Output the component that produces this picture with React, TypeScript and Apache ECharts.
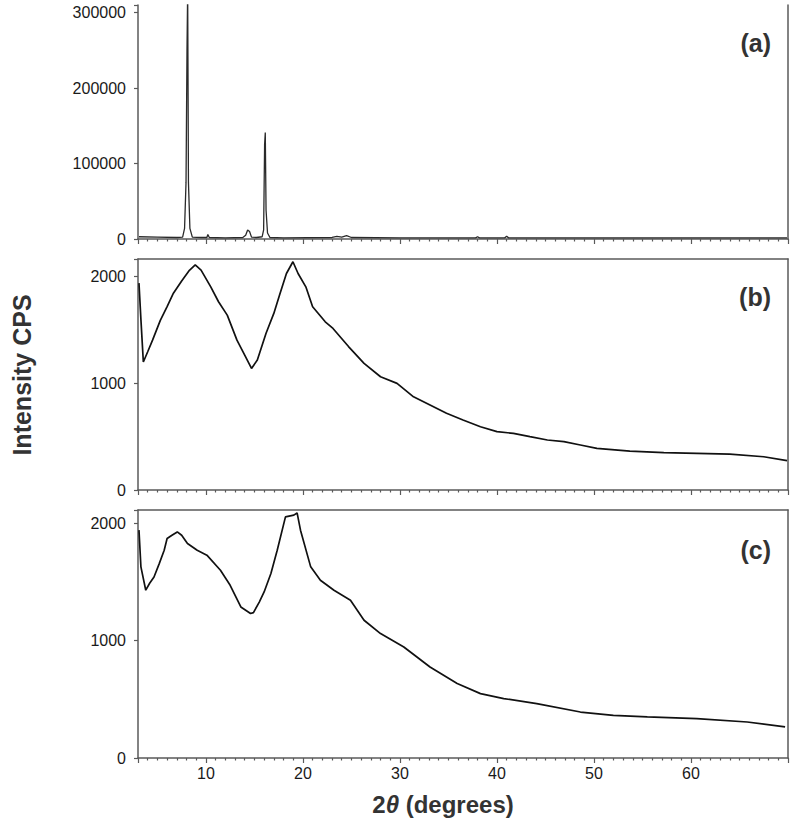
import React, { useEffect, useRef } from "react";
import * as echarts from "echarts";

// Panel (a): sharp crystalline peaks
const A_X = [3.1, 5, 7, 7.6, 7.8, 7.95, 8.05, 8.12, 8.2, 8.35, 8.6, 9.5, 10.1, 10.2, 10.35, 12, 13.8, 14.1, 14.3, 14.5, 14.7, 15.2, 15.8, 15.95, 16.05, 16.12, 16.2, 16.35, 16.6, 18, 23, 23.5, 24, 24.5, 25, 30, 37.8, 38, 38.2, 40.8, 41, 41.2, 50, 60, 69.9];
const A_Y = [3000, 2500, 2000, 2500, 14000, 75000, 250000, 330000, 75000, 14000, 2500, 2000, 2000, 6000, 2000, 1500, 2000, 5000, 12000, 10000, 2500, 2000, 3000, 12000, 125000, 141000, 38000, 8000, 2000, 1500, 2000, 3500, 2500, 4500, 2000, 1500, 1500, 3000, 1500, 1500, 3500, 1500, 1500, 1500, 1500];

// Panel (b): amorphous halo
const B_X = [3.1, 3.3, 3.55, 4.0, 4.5, 5.3, 6.0, 6.65, 7.5, 8.3, 8.9, 9.5, 10.5, 11.3, 12.2, 13.2, 14.0, 14.7, 15.3, 16.2, 17.0, 17.6, 18.3, 18.97, 19.5, 20.3, 21.0, 22.3, 23.1, 24.7, 26.3, 28.0, 29.7, 31.4, 33.1, 34.8, 36.5, 38.3, 40.0, 41.7, 43.4, 45.2, 46.9, 48.6, 50.3, 53.7, 57.2, 60.6, 64.0, 67.5, 69.9];
const B_Y = [1940, 1600, 1200, 1296, 1405, 1590, 1720, 1845, 1960, 2060, 2110, 2062, 1905, 1765, 1640, 1405, 1265, 1140, 1218, 1470, 1656, 1830, 2030, 2140, 2030, 1905, 1718, 1577, 1515, 1345, 1187, 1062, 1000, 874, 797, 719, 656, 593, 547, 531, 500, 469, 453, 422, 390, 365, 350, 344, 337, 312, 275];

// Panel (c)
const C_X = [3.1, 3.3, 3.8, 4.2, 4.65, 5.2, 5.7, 6.0, 6.5, 7.05, 7.5, 8.1, 9.1, 10.1, 11.5, 12.5, 13.6, 14.6, 14.9, 15.5, 16.0, 16.7, 17.35, 18.2, 19.06, 19.4, 19.75, 20.8, 21.8, 23.2, 24.9, 26.3, 28.0, 30.4, 33.1, 35.9, 38.3, 40.7, 44.1, 48.6, 52.0, 55.5, 60.6, 65.8, 69.7];
const C_Y = [1943, 1630, 1431, 1490, 1544, 1660, 1772, 1872, 1900, 1928, 1900, 1829, 1772, 1730, 1601, 1473, 1288, 1232, 1240, 1330, 1416, 1573, 1772, 2056, 2071, 2090, 1943, 1630, 1516, 1431, 1346, 1175, 1061, 947, 776, 635, 549, 507, 464, 392, 364, 350, 336, 307, 265];

const PANEL_LABELS = ["(a)", "(b)", "(c)"];
const X_TICKS = [10, 20, 30, 40, 50, 60];

const FONT = "Liberation Sans, Arial, Helvetica, sans-serif";
const AXIS_COLOR = "#5a5a5a";

export default function App() {
  const ref = useRef<HTMLDivElement>(null);
  useEffect(() => {
    if (!ref.current) return;
    const chart = echarts.init(ref.current, null, { renderer: "svg" });
    const zip = (xs: number[], ys: number[]) => xs.map((x, i) => [x, ys[i]]);

    const grids = [
      { left: 138, top: 5, width: 650, height: 234 },
      { left: 138, top: 259, width: 650, height: 231 },
      { left: 138, top: 510, width: 650, height: 248 },
    ];
    const yMax = [310000, 2166, 2115];
    const yInt = [100000, 1000, 1000];

    const xAxis: any[] = grids.map((_, i) => ({
      type: "value",
      gridIndex: i,
      min: 3,
      max: 70,
      splitNumber: 5,
      axisLine: { show: true, onZero: false, lineStyle: { color: AXIS_COLOR, width: 1.5 } },
      axisTick: { show: true, inside: false, length: 5, lineStyle: { color: AXIS_COLOR, width: 1.2 } },
      minorTick: { show: true, splitNumber: 10, length: 2.5, lineStyle: { color: AXIS_COLOR, width: 1.2 } },
      splitLine: { show: false },
      minorSplitLine: { show: false },
      axisLabel: {
        show: i === 2,
        margin: 7,
        fontSize: 16,
        color: "#1a1a1a",
        fontFamily: FONT,
        showMinLabel: false,
        showMaxLabel: false,
        formatter: (v: number) => (X_TICKS.indexOf(Math.round(v)) >= 0 ? String(Math.round(v)) : ""),
      },
    }));

    const yAxis: any[] = grids.map((_, i) => ({
      type: "value",
      gridIndex: i,
      min: 0,
      max: yMax[i],
      interval: yInt[i],
      axisLine: { show: true, lineStyle: { color: AXIS_COLOR, width: 1.5 } },
      axisTick: { show: true, length: 4, lineStyle: { color: AXIS_COLOR, width: 1.2 } },
      splitLine: { show: false },
      axisLabel: {
        margin: 12,
        fontSize: 16,
        color: "#1a1a1a",
        fontFamily: FONT,
        formatter: (v: number) => (v % yInt[i] === 0 ? String(v) : ""),
      },
    }));
    // right frame lines
    grids.forEach((_, i) => {
      yAxis.push({
        type: "value",
        gridIndex: i,
        position: "right",
        min: 0,
        max: yMax[i],
        interval: yInt[i],
        axisLine: { show: true, lineStyle: { color: AXIS_COLOR, width: 1.5 } },
        axisTick: { show: false },
        axisLabel: { show: false },
        splitLine: { show: false },
      });
    });
    // top frame lines for (b) and (c)
    [1, 2].forEach((i) => {
      xAxis.push({
        type: "value",
        gridIndex: i,
        position: "top",
        min: 3,
        max: 70,
        axisLine: { show: true, onZero: false, lineStyle: { color: AXIS_COLOR, width: 1.5 } },
        axisTick: { show: false },
        axisLabel: { show: false },
        splitLine: { show: false },
      });
    });

    const datasets = [zip(A_X, A_Y), zip(B_X, B_Y), zip(C_X, C_Y)];
    const series = datasets.map((d, i) => ({
      type: "line",
      xAxisIndex: i,
      yAxisIndex: i,
      data: d,
      symbol: "none",
      clip: true,
      lineStyle: { color: i === 0 ? "#2a2a2a" : "#111", width: i === 0 ? 1.3 : 1.7 },
    }));

    const labelYs = [43, 297, 550];
    const graphic: any[] = PANEL_LABELS.map((t, i) => ({
      type: "text",
      x: 771,
      y: labelYs[i],
      style: {
        text: t,
        fontSize: 25,
        fontWeight: "bold",
        fontFamily: FONT,
        fill: "#333",
        textAlign: "right",
        textVerticalAlign: "middle",
      },
    }));
    graphic.push({
      type: "text",
      x: 22,
      y: 375,
      rotation: Math.PI / 2,
      style: {
        text: "Intensity CPS",
        fontSize: 25,
        fontWeight: "bold",
        fontFamily: FONT,
        fill: "#333",
        textAlign: "center",
        textVerticalAlign: "middle",
      },
    });
    graphic.push({
      type: "text",
      x: 443,
      y: 804,
      style: {
        text: "{b|2}{i|θ}{b| (degrees)}",
        textAlign: "center",
        textVerticalAlign: "middle",
        rich: {
          b: { fontSize: 24, fontWeight: "bold", fill: "#333", fontFamily: FONT },
          i: { fontSize: 24, fontWeight: "bold", fontStyle: "italic", fill: "#333", fontFamily: FONT },
        },
      },
    });

    chart.setOption({
      animation: false,
      backgroundColor: "#ffffff",
      grid: grids,
      xAxis,
      yAxis,
      series,
      graphic,
    });
    return () => chart.dispose();
  }, []);
  return (
    <div
      ref={ref}
      style={{ position: "fixed", left: 0, top: 0, width: 797, height: 831 }}
    />
  );
}
